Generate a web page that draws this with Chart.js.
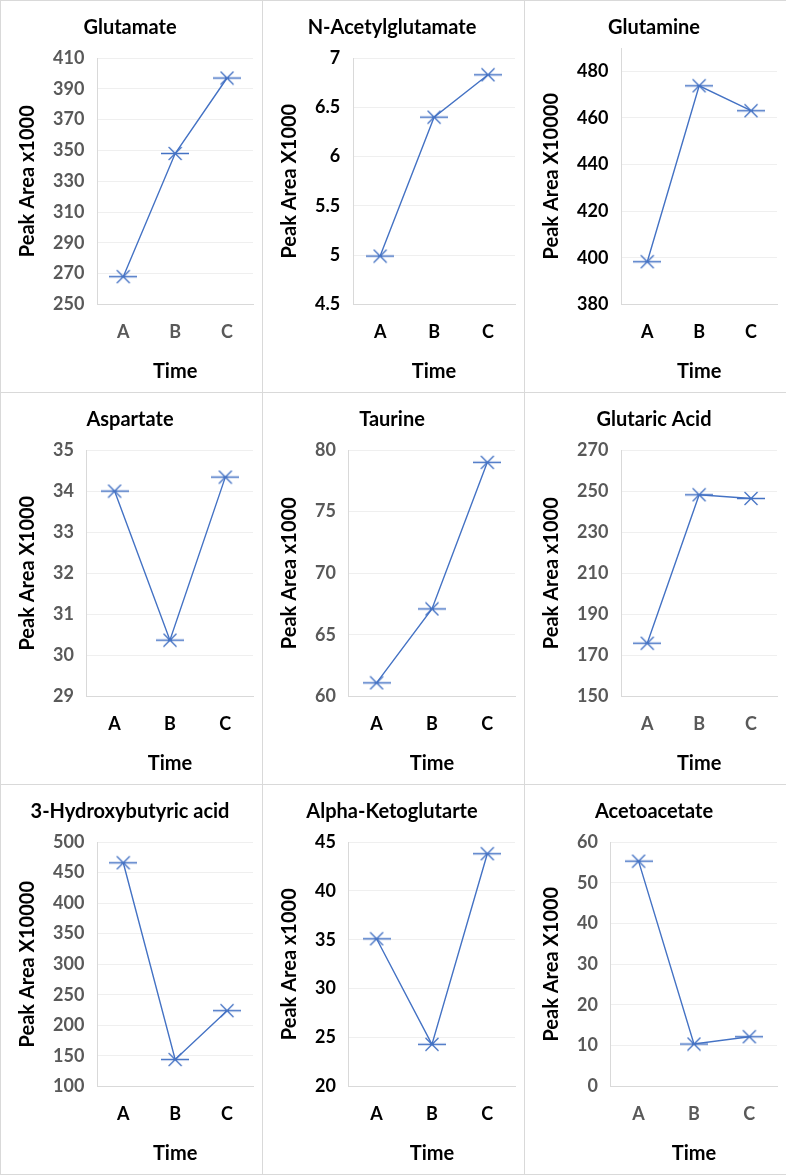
<!DOCTYPE html>
<html>
<head>
<meta charset="utf-8">
<script src="https://cdn.jsdelivr.net/npm/chart.js@4.4.1/dist/chart.umd.min.js"></script>
<style>
  html, body { margin: 0; padding: 0; background: #ffffff; overflow: hidden; }
  #bigDiv {
    display: grid;
    grid-template-columns: 261px 261px 261px;
    grid-template-rows: 391px 391px 389px;
    gap: 1px;
    padding: 1px;
    width: 787px;
    background: #d9d9d9;
  }
  .panel { background: #ffffff; }
  canvas { display: block; }
</style>
</head>
<body>
<div id="bigDiv"></div>
<script>
// categories on the time axis
let categories = ['A', 'B', 'C'];

// titles for each small chart (row by row)
let titles = ['Glutamate', 'N-Acetylglutamate', 'Glutamine', 'Aspartate', 'Taurine', 'Glutaric Acid', '3-Hydroxybutyric acid', 'Alpha-Ketoglutarte', 'Acetoacetate'];
let yTitles = ['Peak Area x1000', 'Peak Area X1000', 'Peak Area X10000', 'Peak Area X1000', 'Peak Area x1000', 'Peak Area x1000', 'Peak Area X10000', 'Peak Area x1000', 'Peak Area X1000'];

// series values
let glutamate = [268, 348, 397];
let nAcetylglutamate = [4.99, 6.40, 6.83];
let glutamine = [398.3, 473.8, 463.1];
let aspartate = [34.0, 30.37, 34.34];
let taurine = [61.1, 67.1, 79.0];
let glutaricAcid = [175.9, 248.2, 246.4];
let hydroxybutyric = [466, 144, 224];
let alphaKetoglutarte = [35.1, 24.3, 43.8];
let acetoacetate = [55.3, 10.4, 12.2];

// y tick ranges: min, max, step
let yMins = [250, 4.5, 380, 29, 60, 150, 100, 20, 0];
let yMaxs = [410, 7, 490, 35, 80, 270, 500, 45, 60];
let ySteps = [20, 0.5, 20, 1, 5, 20, 50, 5, 10];

let allSeries = [glutamate, nAcetylglutamate, glutamine, aspartate, taurine, glutaricAcid, hydroxybutyric, alphaKetoglutarte, acetoacetate];

// which tick labels are grey instead of black
let yGrey = [true, false, false, true, true, true, true, false, true];
let xGrey = [true, false, false, false, false, true, false, false, true];

let blue = '#4472c4';
let grey = '#595959';
let font = 'Lato';

// the star-like marker: an X with a long horizontal bar
function makeMarker() {
  let c = document.createElement('canvas');
  c.width = 28;
  c.height = 15;
  let ctx = c.getContext('2d');
  ctx.strokeStyle = blue;
  ctx.lineWidth = 1.3;
  ctx.beginPath();
  ctx.moveTo(0, 7.5);
  ctx.lineTo(28, 7.5);
  ctx.moveTo(7.5, 1);
  ctx.lineTo(20.5, 14);
  ctx.moveTo(7.5, 14);
  ctx.lineTo(20.5, 1);
  ctx.stroke();
  return c;
}
let marker = makeMarker();

let charts = [];
function generatePageContent() {
  let pageContent = '';
  for (a = 0; a < titles.length; a++) {
    pageContent = pageContent + `<div class="panel"><canvas id="chart${a}" width="261" height="${a < 6 ? 391 : 389}"></canvas></div>`;
  }
  document.getElementById('bigDiv').innerHTML = pageContent;

  for (a = 0; a < titles.length; a++) {
    charts[a] = new Chart(document.getElementById(`chart${a}`), {
      type: 'line',
      data: {
        labels: categories,
        datasets: [{
          data: allSeries[a],
          borderColor: blue,
          borderWidth: 1.4,
          tension: 0,
          pointStyle: marker,
          pointRadius: 7,
        }],
      },
      options: {
        responsive: false,
        animation: false,
        devicePixelRatio: 1,
        layout: { padding: { left: 6, right: 9, top: 4, bottom: 0 } },
        plugins: {
          legend: { display: false },
          tooltip: { enabled: false },
          title: {
            display: true,
            text: titles[a],
            color: '#000000',
            font: { family: font, size: 20, weight: 'bold' },
            // glutamine has no label at its top (490), so excel lets its plot go higher
            padding: { top: 11, bottom: a === 2 ? 8 : 18 },
          },
        },
        scales: {
          x: {
            offset: true,
            grid: { display: false, drawTicks: false },
            border: { display: true, color: '#d9d9d9', width: 1 },
            ticks: {
              color: xGrey[a] ? grey : '#000000',
              font: { family: font, size: 18, weight: 'bold' },
              padding: 17,
            },
            title: {
              display: true,
              text: 'Time',
              color: '#000000',
              font: { family: font, size: 20, weight: 'bold' },
              padding: { top: 0, bottom: 8 },
            },
          },
          y: {
            min: yMins[a],
            max: yMaxs[a],
            grid: { color: '#efefef', drawTicks: false },
            border: { display: true, color: '#d9d9d9', width: 1 },
            ticks: {
              stepSize: ySteps[a],
              includeBounds: false,
              color: yGrey[a] ? grey : '#000000',
              font: { family: font, size: 18, weight: 'bold' },
              padding: 13,
              callback: (v) => String(v),
            },
            title: {
              display: true,
              text: yTitles[a],
              color: '#000000',
              font: { family: font, size: 20, weight: 'bold' },
              padding: { top: 9, bottom: 0 },
            },
          },
        },
      },
    });
  }
}
generatePageContent();
</script>
</body>
</html>
